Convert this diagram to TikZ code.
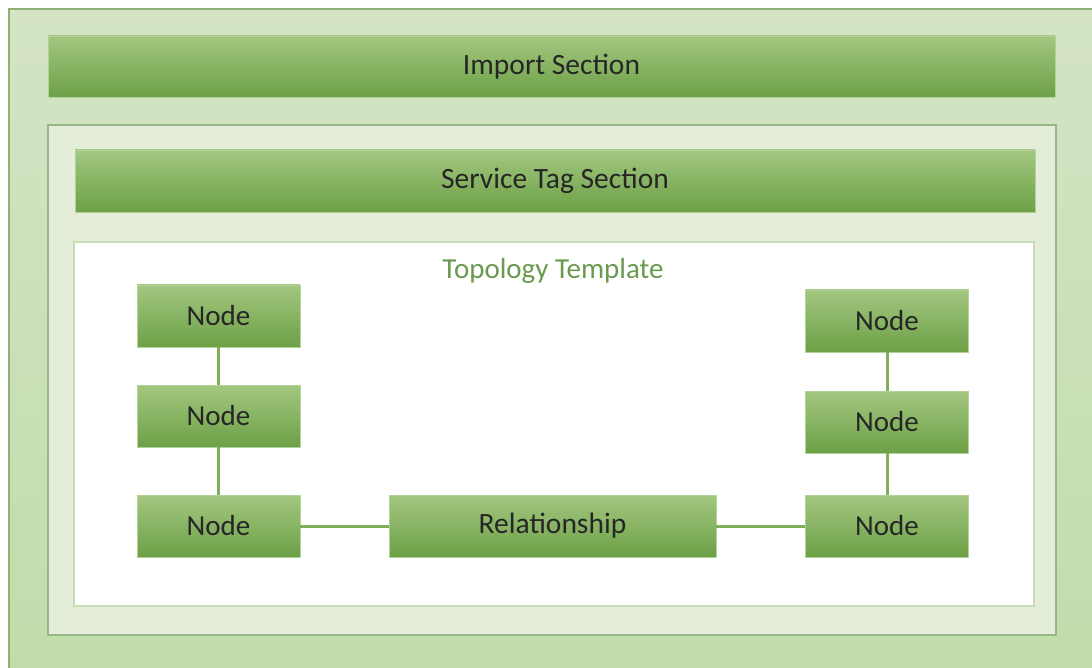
\documentclass[tikz,border=0pt]{standalone}
\usepackage{fontspec}
\setmainfont{Carlito}
\begin{document}
\begin{tikzpicture}[x=1pt,y=-1pt,
  bar/.style={rectangle, inner sep=0pt, top color=barTop, bottom color=barBot, draw=barEdge, line width=0.8pt, font=\fontsize{29.5}{32}\selectfont, text=black!85},
  box/.style={bar, minimum width=163pt, minimum height=62pt, font=\fontsize{29}{32}\selectfont},
  link/.style={draw=linkC, line width=3pt}
]
\definecolor{barTop}{HTML}{A3C780}
\definecolor{barBot}{HTML}{6CA046}
\definecolor{barEdge}{HTML}{B3D29A}
\definecolor{linkC}{HTML}{80AE5C}
\definecolor{outTop}{HTML}{D4E4C5}
\definecolor{outBot}{HTML}{C1DBAA}
\definecolor{outEdge}{HTML}{8DB275}
\definecolor{midFill}{HTML}{E3EDDA}
\definecolor{midEdge}{HTML}{98B786}
\definecolor{topoEdge}{HTML}{C6DDB5}
\definecolor{topoText}{HTML}{6A9A4F}
\useasboundingbox (0,0) rectangle (1092,668);
\fill[white] (0,0) rectangle (1092,668);
\clip (0,0) rectangle (1092,668);
% outer container
\path[top color=outTop, bottom color=outBot, draw=outEdge, line width=1.5pt] (9,9) rectangle (1110,690);
% import section
\node[bar, minimum width=1007pt, minimum height=61pt] (import) at (551.5,66.5) {Import Section};
% middle container
\path[fill=midFill, draw=midEdge, line width=1.5pt] (48,125) rectangle (1056,635);
\node[bar, minimum width=960pt, minimum height=62pt] (service) at (555,181) {Service Tag Section};
% topology template
\path[fill=white, draw=topoEdge, line width=1.5pt] (74,242) rectangle (1034,606);
\node[font=\fontsize{29}{32}\selectfont, text=topoText] (topo) at (553,271) {Topology Template};
% nodes
\node[box] (l1) at (218.5,316) {Node};
\node[box] (l2) at (218.5,416) {Node};
\node[box] (l3) at (218.5,526) {Node};
\node[box] (r1) at (887,321) {Node};
\node[box] (r2) at (887,422) {Node};
\node[box] (r3) at (887,526) {Node};
\node[bar, minimum width=327pt, minimum height=62pt] (rel) at (552.5,526) {Relationship};
% links
\draw[link] (l1) -- (l2);
\draw[link] (l2) -- (l3);
\draw[link] (l3) -- (rel);
\draw[link] (rel) -- (r3);
\draw[link] (r3) -- (r2);
\draw[link] (r2) -- (r1);
\end{tikzpicture}
\end{document}
